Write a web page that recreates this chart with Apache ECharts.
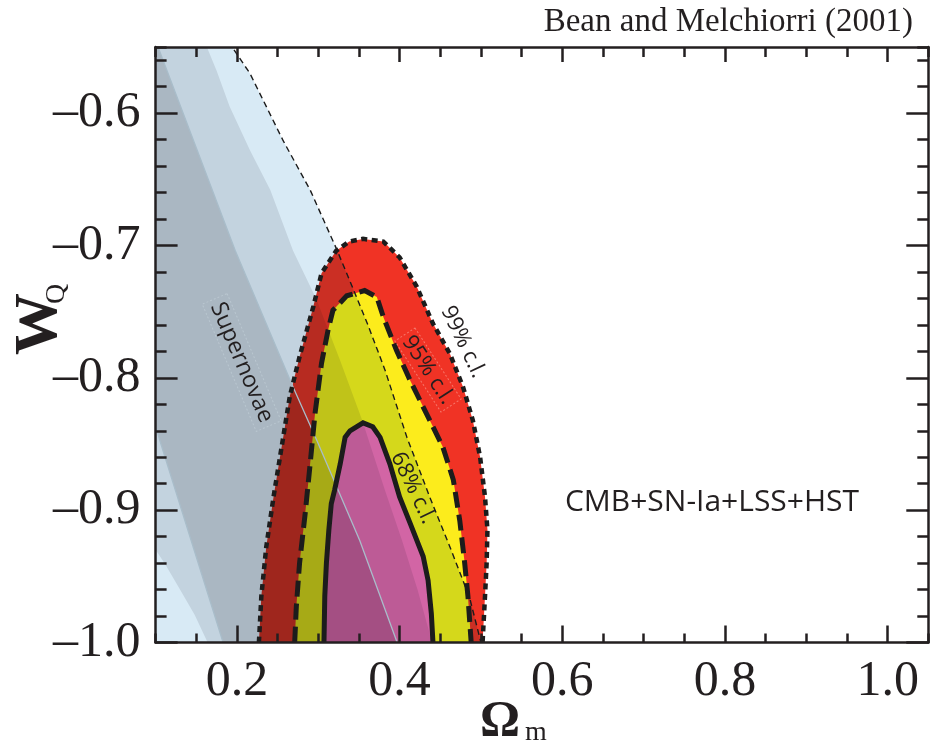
<!DOCTYPE html>
<html><head><meta charset="utf-8">
<script src="https://cdn.jsdelivr.net/npm/echarts@6.0.0/dist/echarts.min.js"></script>
<style>html,body{margin:0;padding:0;background:#fff;}#chart{width:930px;height:744px;}</style>
</head><body><div id="chart"></div>
<script>
// ---------------- data (Omega_m, w_Q) ----------------
const xMajorTicks = [0.2, 0.4, 0.6, 0.8, 1.0];
const yMajorTicks = [-1.0, -0.9, -0.8, -0.7, -0.6];

// 99% c.l. contour (CMB+SN-Ia+LSS+HST)
const cl99 = [[0.227,-1.0],[0.230,-0.965],[0.236,-0.928],[0.245,-0.890],[0.255,-0.852],[0.265,-0.814],[0.277,-0.784],[0.294,-0.746],[0.304,-0.721],[0.322,-0.704],[0.338,-0.697],[0.355,-0.695],[0.380,-0.697],[0.400,-0.709],[0.421,-0.731],[0.441,-0.759],[0.462,-0.782],[0.478,-0.807],[0.490,-0.832],[0.499,-0.860],[0.505,-0.890],[0.508,-0.915],[0.507,-0.940],[0.505,-0.965],[0.502,-1.0]];
// 95% c.l. contour
const cl95 = [[0.271,-1.0],[0.273,-0.973],[0.277,-0.940],[0.284,-0.902],[0.290,-0.865],[0.296,-0.827],[0.304,-0.789],[0.312,-0.764],[0.318,-0.749],[0.335,-0.738],[0.357,-0.734],[0.372,-0.739],[0.380,-0.754],[0.396,-0.779],[0.413,-0.802],[0.433,-0.827],[0.453,-0.852],[0.466,-0.877],[0.474,-0.908],[0.480,-0.940],[0.484,-0.965],[0.488,-1.0]];
// 68% c.l. contour
const cl68 = [[0.307,-1.0],[0.308,-0.965],[0.310,-0.940],[0.313,-0.915],[0.316,-0.895],[0.320,-0.885],[0.327,-0.865],[0.333,-0.845],[0.339,-0.840],[0.355,-0.834],[0.367,-0.837],[0.376,-0.845],[0.388,-0.865],[0.400,-0.890],[0.413,-0.910],[0.429,-0.935],[0.435,-0.953],[0.439,-0.978],[0.441,-1.0]];

// Supernovae band boundaries
const snOuterRight = [[0.1,-0.55],[0.194,-0.55],[0.216,-0.570],[0.257,-0.621],[0.290,-0.658],[0.322,-0.702],[0.341,-0.730],[0.361,-0.760],[0.382,-0.794],[0.409,-0.845],[0.437,-0.890],[0.462,-0.928],[0.486,-0.966],[0.500,-1.0]];
const snMidRight = [[0.163,-0.55],[0.175,-0.568],[0.191,-0.595],[0.216,-0.628],[0.241,-0.658],[0.269,-0.704],[0.298,-0.741],[0.327,-0.787],[0.354,-0.832],[0.382,-0.885],[0.403,-0.923],[0.422,-0.960],[0.440,-1.0]];
const snMidLeft = [[0.1,-0.930],[0.112,-0.941],[0.130,-0.960],[0.148,-0.979],[0.164,-1.0]];
const snCoreRight = [[0.103,-0.55],[0.198,-0.704],[0.269,-0.807],[0.298,-0.847],[0.351,-0.923],[0.397,-1.0]];
const snCoreLeft = [[0.1,-0.836],[0.105,-0.847],[0.183,-1.0]];

// ---------------- chart ----------------
const INK = '#231f20';
const X_MIN = 0.1, X_MAX = 1.05, Y_MIN = -1.0, Y_MAX = -0.55;

const snOuterPoly = [[0.1,-0.55]].concat(snOuterRight, [[0.1,-1.0]]);
const snMidPoly = [[0.1,-0.55]].concat(snMidRight, snMidLeft.slice().reverse());
const snCorePoly = [[0.1,-0.55]].concat(snCoreRight, snCoreLeft.slice().reverse());

function shapeSeries(name, pts, closed, style, z, blendMode) {
  const s = {
    type: 'custom', name: name, coordinateSystem: 'cartesian2d',
    xAxisIndex: 0, yAxisIndex: 0, data: pts, silent: true, clip: true, z: z,
    encode: {x: 0, y: 1},
    renderItem: function (params, api) {
      if (params.dataIndex !== 0) return null;
      const p = pts.map(function (d) { return api.coord(d); });
      return {type: closed ? 'polygon' : 'polyline', shape: {points: p}, style: style, silent: true};
    }
  };
  if (blendMode) s.blendMode = blendMode;
  return s;
}

function xAx(pos, extra) {
  return Object.assign({
    type: 'value', position: pos, min: X_MIN, max: X_MAX, interval: 0.05,
    axisLine: {show: true, onZero: false, lineStyle: {color: INK, width: 2.5}},
    axisTick: {show: true, inside: true, length: 9, lineStyle: {color: INK, width: 2.5}},
    axisLabel: {show: false}, splitLine: {show: false}, z: 10
  }, extra || {});
}
function yAx(pos, extra) {
  return Object.assign({
    type: 'value', position: pos, min: Y_MIN, max: Y_MAX, interval: 0.02,
    axisLine: {show: true, onZero: false, lineStyle: {color: INK, width: 2.5}},
    axisTick: {show: true, inside: true, length: 11, lineStyle: {color: INK, width: 2.5}},
    axisLabel: {show: false}, splitLine: {show: false}, z: 10
  }, extra || {});
}

const serifFont = '"Liberation Serif", "Times New Roman", serif';
const sansFont = '"Open Sans", "Noto Sans", sans-serif';

const option = {
  backgroundColor: '#ffffff',
  animation: false,
  title: {
    text: 'Bean and Melchiorri (2001)', right: 17, top: 6, padding: 0,
    textStyle: {fontFamily: serifFont, fontSize: 33, fontWeight: 'normal', color: INK}
  },
  grid: {left: 155.6, right: 1.7, top: 47, bottom: 101.5, containLabel: false, outerBoundsMode: 'none'},
  xAxis: [
    xAx('bottom', {axisLabel: {show: true, customValues: xMajorTicks, formatter: function (v) { return v.toFixed(1); },
      fontFamily: serifFont, fontSize: 50, color: INK, margin: 14}}),
    xAx('bottom', {axisLine: {show: false}, axisTick: {show: true, inside: true, length: 17, customValues: xMajorTicks, lineStyle: {color: INK, width: 2.5}}}),
    xAx('top', {axisTick: {show: true, inside: true, length: 10, lineStyle: {color: INK, width: 2.5}}}),
    xAx('top', {axisLine: {show: false}, axisTick: {show: true, inside: true, length: 15, customValues: xMajorTicks, lineStyle: {color: INK, width: 2.5}}})
  ],
  yAxis: [
    yAx('left', {axisLabel: {show: true, customValues: yMajorTicks, formatter: function (v) { return '\u2013' + Math.abs(v).toFixed(1); },
      fontFamily: serifFont, fontSize: 50, color: INK, margin: 15}}),
    yAx('left', {axisLine: {show: false}, axisTick: {show: true, inside: true, length: 22, customValues: yMajorTicks, lineStyle: {color: INK, width: 2.5}}}),
    yAx('right', {}),
    yAx('right', {axisLine: {show: false}, axisTick: {show: true, inside: true, length: 22, customValues: yMajorTicks, lineStyle: {color: INK, width: 2.5}}})
  ],
  series: [
    // confidence regions
    shapeSeries('99% c.l.', cl99, true, {fill: '#f03325', stroke: null}, 1),
    shapeSeries('95% c.l.', cl95, true, {fill: '#fcec1c', stroke: null}, 1),
    shapeSeries('68% c.l.', cl68, true, {fill: '#f86eac', stroke: null}, 1),
    // supernovae band (multiply-blended so overlapping contours get darker)
    shapeSeries('SN outer', snOuterPoly, true, {fill: '#d8eaf5'}, 2, 'multiply'),
    shapeSeries('SN mid', snMidPoly, true, {fill: '#e6e6e8'}, 2, 'multiply'),
    shapeSeries('SN core', snCorePoly, true, {fill: '#dedede'}, 2, 'multiply'),
    shapeSeries('SN core edge R', snCoreRight, false, {fill: null, stroke: '#a9bdca', lineWidth: 1.3}, 3),
    shapeSeries('SN core edge L', snCoreLeft, false, {fill: null, stroke: '#a9bdca', lineWidth: 1.3}, 3),
    shapeSeries('SN boundary', snOuterRight, false, {fill: null, stroke: '#1c1c1c', lineWidth: 1.4, lineDash: [6, 4]}, 3),
    // contour outlines
    shapeSeries('99% line', cl99, false, {fill: null, stroke: '#1c1c1c', lineWidth: 4.5, lineDash: [6, 4.5]}, 4),
    shapeSeries('95% line', cl95, false, {fill: null, stroke: '#1c1c1c', lineWidth: 5, lineDash: [16, 7]}, 4),
    shapeSeries('68% line', cl68, false, {fill: null, stroke: '#1c1c1c', lineWidth: 5}, 4)
  ],
  graphic: [
    {type: 'text', x: 241.7, y: 362.5, rotation: -67 * Math.PI / 180, z: 20,
      style: {text: 'Supernovae', font: '23px ' + sansFont, fill: INK, align: 'center', verticalAlign: 'middle',
        borderColor: 'rgba(215,228,236,0.35)', borderWidth: 1, borderDash: [2, 2], padding: [2, 5]}},
    {type: 'text', x: 463, y: 342, rotation: -64.6 * Math.PI / 180, z: 20,
      style: {text: '99% c.l.', font: '22px ' + sansFont, fill: INK, align: 'center', verticalAlign: 'middle'}},
    {type: 'text', x: 428, y: 370, rotation: -57 * Math.PI / 180, z: 20,
      style: {text: '95% c.l.', font: '22px ' + sansFont, fill: INK, align: 'center', verticalAlign: 'middle',
        borderColor: 'rgba(255,200,190,0.45)', borderWidth: 1, borderDash: [2, 2], padding: [1, 4]}},
    {type: 'text', x: 413, y: 488, rotation: -64.5 * Math.PI / 180, z: 20,
      style: {text: '68% c.l.', font: '22px ' + sansFont, fill: INK, align: 'center', verticalAlign: 'middle'}},
    {type: 'text', x: 712, y: 502, z: 20,
      style: {text: 'CMB+SN-Ia+LSS+HST', font: '30px ' + sansFont, fill: INK, align: 'center', verticalAlign: 'middle'}},
    // axis names
    {type: 'text', x: 40, y: 324, rotation: Math.PI / 2, z: 20,
      style: {text: 'W', font: 'bold 62px ' + serifFont, fill: INK, align: 'center', verticalAlign: 'middle'}},
    {type: 'text', x: 57, y: 294, rotation: Math.PI / 2, z: 20,
      style: {text: 'Q', font: '28px ' + serifFont, fill: INK, align: 'center', verticalAlign: 'middle'}},
    {type: 'text', x: 500, y: 722, z: 20,
      style: {text: '\u03A9', font: 'bold 50px ' + serifFont, fill: INK, align: 'center', verticalAlign: 'middle'}},
    {type: 'text', x: 536, y: 733, z: 20,
      style: {text: 'm', font: '28px ' + serifFont, fill: INK, align: 'center', verticalAlign: 'middle'}}
  ]
};

const chart = echarts.init(document.getElementById('chart'), null, {renderer: 'canvas', width: 930, height: 744});
chart.setOption(option);
</script>
</body></html>
